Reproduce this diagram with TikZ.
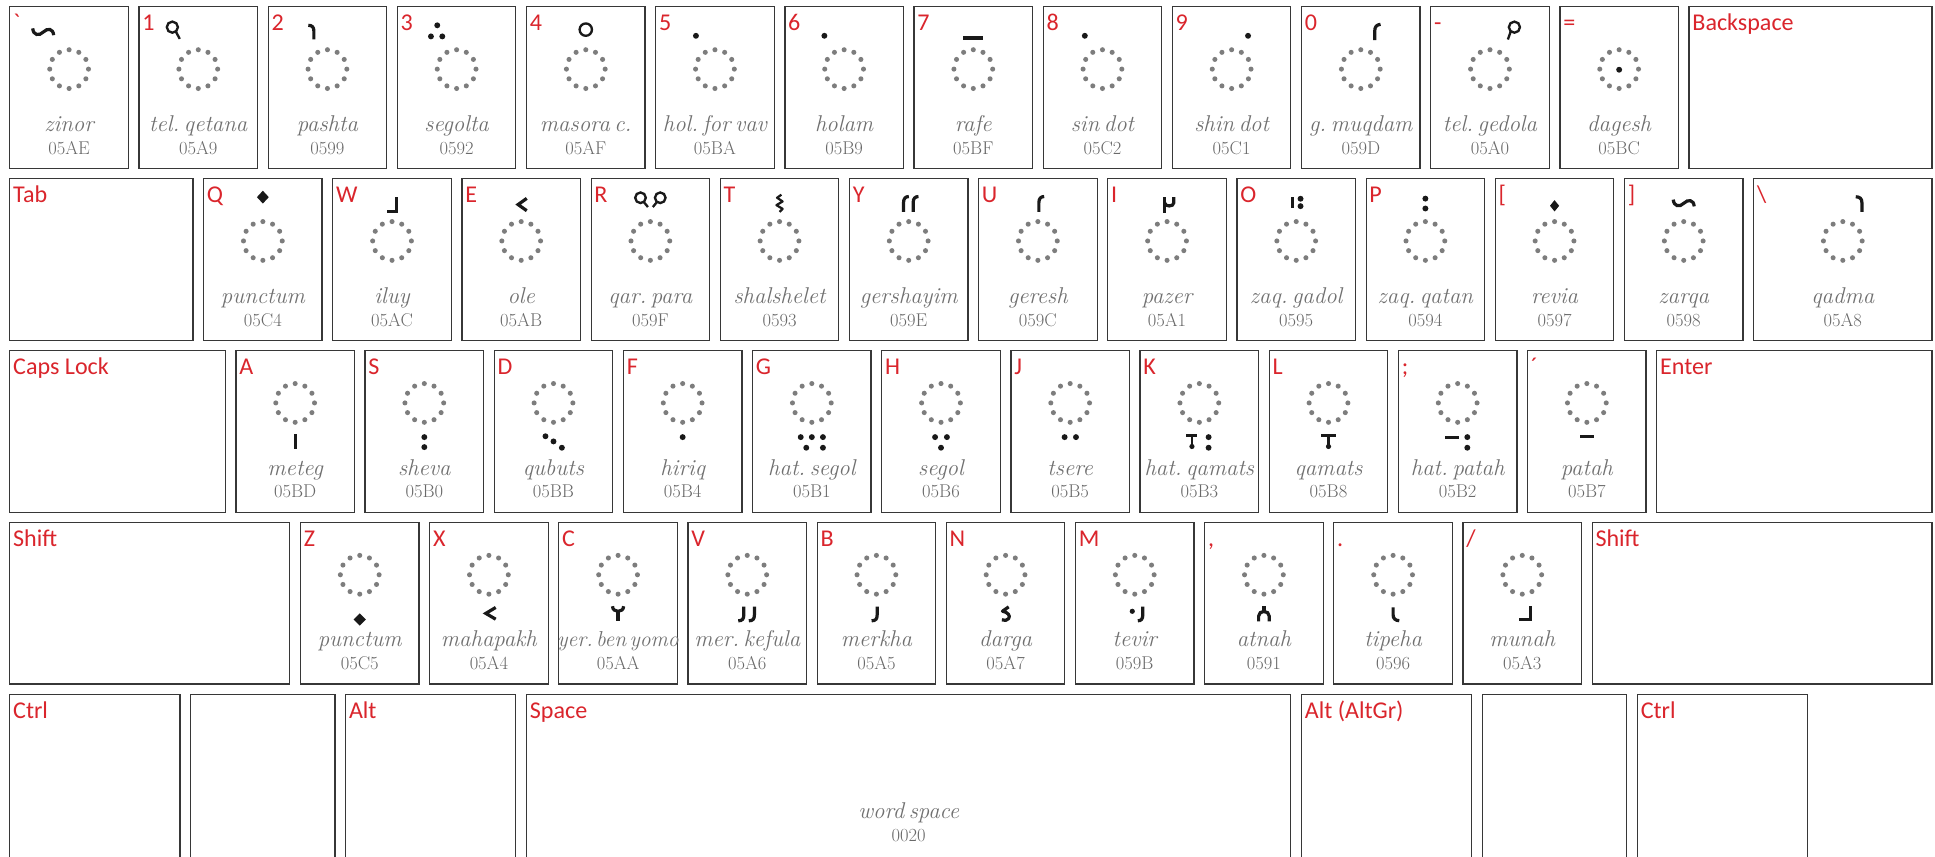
\documentclass[tikz,border=0pt]{standalone}
\usepackage{fontspec}
\newfontfamily\labfont{Carlito}[Ligatures=TeXOff]
\definecolor{keyred}{RGB}{218,37,44}
\definecolor{keyborder}{RGB}{55,55,55}
\definecolor{namegray}{RGB}{112,112,112}
\definecolor{codegray}{RGB}{105,105,105}
\definecolor{dotgray}{RGB}{125,125,125}
\definecolor{mkcol}{RGB}{25,25,25}
\newcommand\namefont{\itshape\fontsize{18.5}{18.5}\selectfont\frenchspacing\spaceskip=0.2em\relax}
\tikzset{
  keybox/.style={draw=keyborder, line width=1pt, inner sep=0pt, outer sep=0pt, minimum height=131pt, rectangle},
  keylab/.style={font=\labfont\fontsize{19.5}{19.5}\selectfont, text=keyred, anchor=base west, inner sep=0pt},
  namest/.style={font=\namefont, text=namegray, anchor=base, inner sep=0pt},
  codest/.style={font=\fontsize{15}{15}\selectfont, text=codegray, anchor=base, inner sep=0pt},
  mk/.style={draw=mkcol, line width=2.6pt},
  mkthin/.style={draw=mkcol, line width=1.9pt},
}
% key box with red label: [opts]{name}{pos}{size}{row}{label}
\newcommand\kb[6][]{%
  \node[keybox,#1,minimum width={#4*104.67pt-8.67pt},anchor=north west] (#2) at ({8+#3*104.67},{5.5+#5*139.25}) {};
  \node[keylab] (#2l) at ([xshift=2.5pt,yshift=-19.5pt]#2.north west) {#6};}
% name and code
\newcommand\kt[3]{%
  \node[namest] (#1n) at ([yshift=-101pt]#1.north) {#2};
  \node[codest] (#1c) at ([yshift=-119.5pt]#1.north) {#3};}
\newcommand\dotring{\foreach \a in {0,30,...,330} {\fill[dotgray] (\a:15.7) circle[radius=2.05];}}
\newcommand\ka[2]{\coordinate (#1o) at ([yshift=-50.5pt]#1.north);
  \begin{scope}[shift={(#1o)}]\dotring #2\end{scope}}
\newcommand\kw[2]{\coordinate (#1o) at ([yshift=-42.5pt]#1.north);
  \begin{scope}[shift={(#1o)}]\dotring #2\end{scope}}
% marks
\newcommand\mdot[2]{\fill[mkcol] (#1,#2) circle[radius=2.4];}
\newcommand\mdia[4]{\fill[mkcol] ({#1-#3},#2) -- (#1,{#2-#4}) -- ({#1+#3},#2) -- (#1,{#2+#4}) -- cycle;}
\newcommand\mwave[2]{\draw[mk,shift={(#1,#2)}] (-8.5,-3) .. controls (-8,2.5) and (-3.5,3.5) .. (0,0) .. controls (3.5,-3.5) and (8,-3) .. (8.5,2.5);}
\newcommand\mgeresh[1]{\draw[mk] (#1,-23.5) -- (#1,-31) .. controls (#1,-34.5) and ({#1+1.7},-36) .. ({#1+4.3},-36);}
\newcommand\mjay[2]{\draw[mk] (#1,25.8) -- (#1,32.5) .. controls (#1,35.8) and ({#1-1.2},37.3) .. (#2,37.3);}
\newcommand\mqamats[2]{\fill[mkcol] ({#1-#2},25.2) rectangle ({#1+#2},27.9); \fill[mkcol] ({#1-1.15},27) rectangle ({#1+1.15},34); \fill[mkcol] (#1,35.3) circle[radius=2.1];}
\newcommand\smallname{\fontsize{17.5}{17.5}\selectfont\spaceskip=0.15em\relax}
\begin{document}
\begin{tikzpicture}[x=1pt,y=-1pt]
\useasboundingbox (0,0) rectangle (1568,694);
\fill[white] (0,0) rectangle (1568,694);
% ---------- row 1
\kb{kGr}{0}{1}{0}{`}\kt{kGr}{zinor}{05AE}\ka{kGr}{\mwave{-21}{-30}}
\kb{k1}{1}{1}{0}{1}\kt{k1}{tel. qetana}{05A9}\ka{k1}{\draw[mkthin] (-21,-34) circle[radius=4.5]; \draw[mkthin] (-18.2,-30.4) -- (-15,-24.5);}
\kb{k2}{2}{1}{0}{2}\kt{k2}{pashta}{0599}\ka{k2}{\draw[mk] (-15.5,-35.5) .. controls (-12.5,-35.5) and (-11,-34) .. (-11,-31) -- (-11,-24);}
\kb{k3}{3}{1}{0}{3}\kt{k3}{segolta}{0592}\ka{k3}{\mdot{-15.7}{-35.5}\mdot{-20.8}{-26.5}\mdot{-11.6}{-26.5}}
\kb{k4}{4}{1}{0}{4}\kt{k4}{masora c.}{05AF}\ka{k4}{\draw[mkthin] (0,-32) circle[radius=5];}
\kb{k5}{5}{1}{0}{5}\kt{k5}{hol. for vav}{05BA}\ka{k5}{\mdot{-15.4}{-27}}
\kb{k6}{6}{1}{0}{6}\kt{k6}{holam}{05B9}\ka{k6}{\mdot{-16}{-27}}
\kb{k7}{7}{1}{0}{7}\kt{k7}{rafe}{05BF}\ka{k7}{\draw[mk,line width=3pt] (-8,-25.3) -- (8,-25.3);}
\kb{k8}{8}{1}{0}{8}\kt{k8}{sin dot}{05C2}\ka{k8}{\mdot{-14.3}{-27}}
\kb{k9}{9}{1}{0}{9}\kt{k9}{shin dot}{05C1}\ka{k9}{\mdot{13.3}{-27}}
\kb{k0}{10}{1}{0}{0}\kt{k0}{g. muqdam}{059D}\ka{k0}{\draw[mk] (11.3,-23.5) -- (11.3,-31) .. controls (11.3,-34.5) and (13,-36) .. (16,-36.3);}
\kb{kMin}{11}{1}{0}{-}\kt{kMin}{tel. gedola}{05A0}\ka{kMin}{\draw[mkthin] (19.8,-34) circle[radius=4.5]; \draw[mkthin] (16.8,-30.4) -- (14.5,-24);}
\kb{kEq}{12}{1}{0}{=}\kt{kEq}{dagesh}{05BC}\ka{kEq}{\mdot{0}{0.5}}
\kb{kBack}{13}{1.963}{0}{Backspace}
% ---------- row 2
\kb{kTab}{0}{1.5}{1}{Tab}
\kb{kQ}{1.5}{1}{1}{Q}\kt{kQ}{punctum}{05C4}\ka{kQ}{\mdia{0}{-35.5}{4.8}{5.2}}
\kb{kW}{2.5}{1}{1}{W}\kt{kW}{iluy}{05AC}\ka{kW}{\draw[mk,line join=miter] (3.5,-35.5) -- (3.5,-23.8) -- (-4.4,-23.8);}
\kb{kE}{3.5}{1}{1}{E}\kt{kE}{ole}{05AB}\ka{kE}{\draw[mk,line join=miter] (4.5,-34.5) -- (-2.5,-29.5) -- (4.5,-24.5);}
\kb{kR}{4.5}{1}{1}{R}\kt{kR}{qar. para}{059F}\ka{kR}{\draw[mkthin] (-8,-35) circle[radius=4.3]; \draw[mkthin] (-5.3,-31.5) -- (-2,-27.5); \draw[mkthin] (8,-35) circle[radius=4.3]; \draw[mkthin] (5.3,-31.5) -- (2,-27.5);}
\kb{kT}{5.5}{1}{1}{T}\kt{kT}{shalshelet}{0593}\ka{kT}{\draw[mk,line width=1.8pt,line join=round] (1.5,-37.5) -- (-2,-35) -- (2.5,-32) -- (-2.5,-29) -- (2.5,-26) -- (0,-23.5);}
\kb{kY}{6.5}{1}{1}{Y}\kt{kY}{gershayim}{059E}\ka{kY}{\mgeresh{-4.2}\mgeresh{3.6}}
\kb{kU}{7.5}{1}{1}{U}\kt{kU}{geresh}{059C}\ka{kU}{\mgeresh{0.8}}
\kb{kI}{8.5}{1}{1}{I}\kt{kI}{pazer}{05A1}\ka{kI}{\draw[mk] (-2,-35.5) -- (-2,-22.5); \draw[mk] (-2,-31) .. controls (-2,-27.5) and (5.5,-27.5) .. (5.5,-31) -- (5.5,-35.5);}
\kb{kO}{9.5}{1}{1}{O}\kt{kO}{zaq. gadol}{0595}\ka{kO}{\fill[mkcol] (-4.6,-36) rectangle (-2,-27); \mdot{3.5}{-34.2}\mdot{3.5}{-28.2}}
\kb{kP}{10.5}{1}{1}{P}\kt{kP}{zaq. qatan}{0594}\ka{kP}{\mdot{0}{-34.3}\mdot{0}{-26.3}}
\kb{kLB}{11.5}{1}{1}{[}\kt{kLB}{revia}{0597}\ka{kLB}{\mdia{0}{-28.5}{3.7}{4.6}}
\kb{kRB}{12.5}{1}{1}{]}\kt{kRB}{zarqa}{0598}\ka{kRB}{\mwave{0}{-30.5}}
\kb{kBS}{13.5}{1.463}{1}{\textbackslash}\kt{kBS}{qadma}{05A8}\ka{kBS}{\draw[mk] (10.5,-35.8) .. controls (13.5,-35.8) and (15.5,-34.5) .. (15.5,-31) -- (15.5,-23.5);}
% ---------- row 3
\kb{kCaps}{0}{1.75}{2}{Caps Lock}
\kb{kA}{1.75}{1}{2}{A}\kt{kA}{meteg}{05BD}\kw{kA}{\fill[mkcol] (-1.3,25.5) rectangle (1.3,37.5);}
\kb{kS}{2.75}{1}{2}{S}\kt{kS}{sheva}{05B0}\kw{kS}{\mdot{0}{27.7}\mdot{0}{35.8}}
\kb{kD}{3.75}{1}{2}{D}\kt{kD}{qubuts}{05BB}\kw{kD}{\mdot{-6.5}{27}\mdot{0}{31.2}\mdot{6.8}{36.3}}
\kb{kF}{4.75}{1}{2}{F}\kt{kF}{hiriq}{05B4}\kw{kF}{\mdot{0}{27.7}}
\kb{kG}{5.75}{1}{2}{G}\kt{kG}{hat. segol}{05B1}\kw{kG}{\mdot{-9}{27.7}\mdot{0}{27.7}\mdot{-4.5}{36.3}\mdot{9}{27.7}\mdot{9}{36.3}}
\kb{kH}{6.75}{1}{2}{H}\kt{kH}{segol}{05B6}\kw{kH}{\mdot{-4.8}{27.7}\mdot{4.8}{27.7}\mdot{0}{36.3}}
\kb{kJ}{7.75}{1}{2}{J}\kt{kJ}{tsere}{05B5}\kw{kJ}{\mdot{-4.5}{27.7}\mdot{4.7}{27.7}}
\kb{kK}{8.75}{1}{2}{K}\kt{kK}{hat. qamats}{05B3}\kw{kK}{\mqamats{-6}{4.5}\mdot{7.5}{27.7}\mdot{7.5}{36.3}}
\kb{kL}{9.75}{1}{2}{L}\kt{kL}{qamats}{05B8}\kw{kL}{\mqamats{0}{6}}
\kb{kSemi}{10.75}{1}{2}{;}\kt{kSemi}{hat. patah}{05B2}\kw{kSemi}{\fill[mkcol] (-10,26.4) rectangle (1.2,29); \mdot{7.8}{27.7}\mdot{7.8}{36.3}}
\kb{kApos}{11.75}{1}{2}{´}\kt{kApos}{patah}{05B7}\kw{kApos}{\fill[mkcol] (-5.8,25.9) rectangle (5.8,28.5);}
\kb{kEnter}{12.75}{2.213}{2}{Enter}
% ---------- row 4
\kb{kLShift}{0}{2.25}{3}{Shift}
\kb{kZ}{2.25}{1}{3}{Z}\kt{kZ}{punctum}{05C5}\kw{kZ}{\mdia{0}{36.3}{5}{5}}
\kb{kX}{3.25}{1}{3}{X}\kt{kX}{mahapakh}{05A4}\kw{kX}{\draw[mk,line join=miter] (5.5,26.5) -- (-2.5,31.3) -- (5.5,36);}
\kb{kC}{4.25}{1}{3}{C}\kt{kC}{\smallname yer. ben yomo}{05AA}\kw{kC}{\draw[mk] (-4.5,25.5) .. controls (-4.5,31) and (4.5,31) .. (4.5,25.5); \draw[mk] (0,29.5) -- (0,37.5);}
\kb{kV}{5.25}{1}{3}{V}\kt{kV}{mer. kefula}{05A6}\kw{kV}{\mjay{-2.8}{-7.3}\mjay{5.8}{1.3}}
\kb{kB}{6.25}{1}{3}{B}\kt{kB}{merkha}{05A5}\kw{kB}{\mjay{0.6}{-3.9}}
\kb{kN}{7.25}{1}{3}{N}\kt{kN}{darga}{05A7}\kw{kN}{\draw[mk,line join=round] (2.5,26) -- (-2.5,29.5) .. controls (2,30.5) and (4,33) .. (2.5,35.5) .. controls (1.5,37) and (-1,37.5) .. (-3,36.5);}
\kb{kM}{8.25}{1}{3}{M}\kt{kM}{tevir}{059B}\kw{kM}{\fill[mkcol] (-2,29.6) circle[radius=2.1]; \mjay{6.5}{2.5}}
\kb{kComma}{9.25}{1}{3}{,}\kt{kComma}{atnah}{0591}\kw{kComma}{\draw[mk] (-4.3,37.8) -- (-4.3,33.5) .. controls (-4.3,28.5) and (4.3,28.5) .. (4.3,33.5) -- (4.3,37.8); \draw[mk] (0,25.5) -- (0,30);}
\kb{kDot}{10.25}{1}{3}{.}\kt{kDot}{tipeha}{0596}\kw{kDot}{\draw[mk] (0,26.5) -- (0,32.5) .. controls (0,35.5) and (2,37.2) .. (5,37.2);}
\kb{kSlash}{11.25}{1}{3}{/}\kt{kSlash}{munah}{05A3}\kw{kSlash}{\draw[mk,line join=miter] (6.5,25.5) -- (6.5,36.5) -- (-2.7,36.5);}
\kb{kRShift}{12.25}{2.713}{3}{Shift}
% ---------- row 5
\kb[minimum height=140pt]{kLCtrl}{0}{1.4}{4}{Ctrl}
\node[keybox,minimum height=140pt,minimum width={1.2*104.67pt-8.67pt},anchor=north west] (kLWin) at ({8+1.4*104.67},{5.5+4*139.25}) {};
\kb[minimum height=140pt]{kLAlt}{2.6}{1.4}{4}{Alt}
\kb[minimum height=140pt]{kSpace}{4}{6}{4}{Space}\kt{kSpace}{word space}{0020}
\kb[minimum height=140pt]{kAltGr}{10}{1.4}{4}{Alt (AltGr)}
\node[keybox,minimum height=140pt,minimum width={1.2*104.67pt-8.67pt},anchor=north west] (kRWin) at ({8+11.4*104.67},{5.5+4*139.25}) {};
\kb[minimum height=140pt]{kRCtrl}{12.6}{1.4}{4}{Ctrl}
\end{tikzpicture}
\end{document}
